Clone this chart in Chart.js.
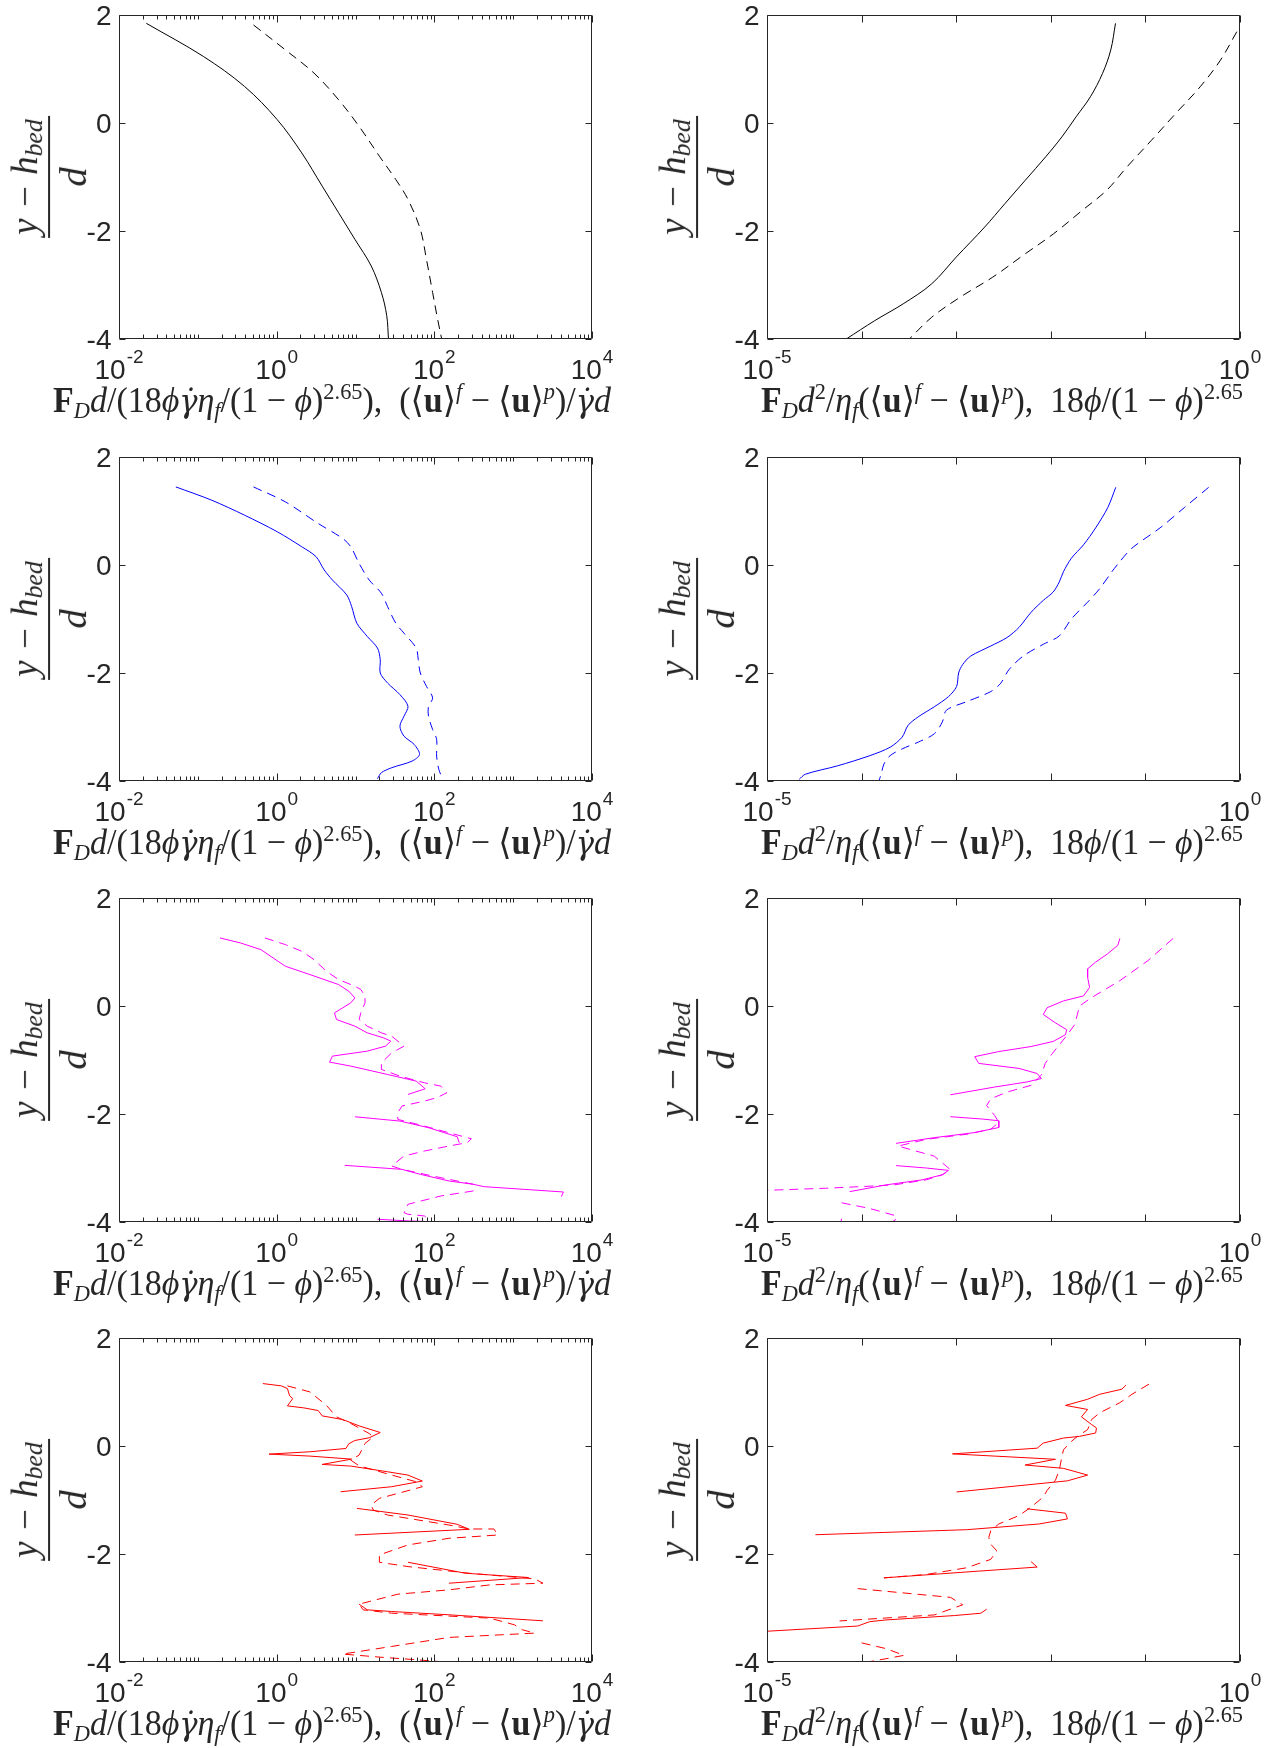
<!DOCTYPE html>
<html>
<head>
<meta charset="utf-8">
<script src="https://cdn.jsdelivr.net/npm/chart.js@4.4.1/dist/chart.umd.min.js"></script>
<style>
  body { margin: 0; background: #fff; }
  #page { position: relative; width: 1276px; height: 1748px; overflow: hidden; background: #fff; }
  canvas { position: absolute; }
  .xt { position: absolute; white-space: nowrap; font-family: "Liberation Serif", "DejaVu Serif", serif;
        font-size: 36px; line-height: 30px; color: #262626; }
  .xt sub, .xt sup { font-size: 0.66em; line-height: 0; }
  .xt sup { vertical-align: 0.55em; }
  .xt sub { vertical-align: -0.25em; }
  .gd { font-family: "DejaVu Serif", serif; font-size: 0.9em; }
  .yl { position: absolute; transform: translate(-50%, -50%) rotate(-90deg); white-space: nowrap;
        font-family: "Liberation Serif", "DejaVu Serif", serif; font-style: italic; font-size: 37px; color: #262626; }
  .frac { display: inline-flex; flex-direction: column; align-items: center; line-height: 1; }
  .num { border-bottom: 2px solid #262626; padding: 0 3px 5px; }
  .num sub { font-size: 0.7em; line-height: 0; vertical-align: -0.2em; }
  .den { padding-top: 4px; font-size: 1.05em; }
</style>
</head>
<body>
<div id="page"></div>
<script>
// ---- data: height (y - h_bed)/d and the two profiles per panel ----
// row 1, black
const blackLeftSolidY = [1.846, 1.231, 0.677, 0.062, -0.554, -1.169, -1.662, -2.154, -2.646, -3.138, -3.569, -4.0];
const blackLeftSolidX = [0.0222, 0.118, 0.391, 1.016, 2.08, 3.78, 6.10, 9.82, 15.8, 21.3, 24.9, 26.2];
const blackLeftDashY = [1.815, 1.354, 0.923, 0.431, -0.062, -0.615, -1.046, -1.415, -1.969, -2.523, -3.138, -3.631, -4.0];
const blackLeftDashX = [0.508, 1.29, 2.98, 6.10, 11.1, 20.1, 32.4, 46.3, 66.4, 79.4, 95.1, 110, 124];
const blackRightSolidY = [1.845, 1.351, 0.918, 0.485, 0.114, -0.257, -0.628, -1.061, -1.494, -1.927, -2.484, -2.978, -3.349, -3.659, -4.0];
const blackRightSolidX = [0.0483, 0.0430, 0.0352, 0.0262, 0.0185, 0.0131, 0.00881, 0.00537, 0.00327, 0.0020, 0.0010, 0.000551, 0.000275, 0.000138, 0.0000689];
const blackRightDashY = [1.691, 1.165, 0.670, 0.176, -0.319, -0.814, -1.247, -1.618, -2.051, -2.422, -2.855, -3.226, -3.597, -4.0];
const blackRightDashX = [0.925, 0.622, 0.379, 0.209, 0.116, 0.0638, 0.0389, 0.0215, 0.0107, 0.00537, 0.00243, 0.00110, 0.000551, 0.000320];

// row 2, blue
const blueLeftSolidY = [1.446, 1.2, 0.923, 0.615, 0.338, 0.154, -0.092, -0.277, -0.554, -0.769, -1.077, -1.323, -1.538, -1.754, -2.0, -2.185, -2.4, -2.615, -2.8, -2.985, -3.169, -3.323, -3.508, -3.631, -3.754, -3.846, -3.957];
const blueLeftSolidX = [0.0526, 0.150, 0.391, 1.02, 2.08, 3.16, 4.01, 5.09, 7.74, 8.93, 10.4, 14.1, 19.0, 20.6, 20.6, 25.5, 36.6, 46.3, 41.2, 36.6, 41.2, 55.5, 64.9, 52.2, 28.8, 21.3, 19.0];
const blueLeftDashY = [1.446, 1.169, 0.769, 0.492, 0.338, 0.031, -0.277, -0.523, -0.769, -1.077, -1.262, -1.538, -1.754, -2.0, -2.246, -2.462, -2.615, -2.8, -3.046, -3.231, -3.538, -3.785, -3.969];
const blueLeftDashX = [0.508, 1.29, 3.36, 6.87, 8.71, 11.1, 14.9, 21.3, 25.5, 32.4, 41.2, 58.9, 62.5, 66.4, 79.4, 95.1, 84.3, 84.3, 95.1, 107, 107, 114, 128];
const blueRightSolidY = [1.438, 1.063, 0.688, 0.375, 0.125, -0.125, -0.313, -0.5, -0.656, -0.875, -1.156, -1.344, -1.5, -1.688, -1.844, -2.0, -2.25, -2.438, -2.625, -2.813, -2.969, -3.188, -3.375, -3.531, -3.719, -3.875, -3.969];
const blueRightSolidX = [0.0486, 0.0400, 0.0298, 0.0222, 0.0165, 0.0136, 0.0123, 0.0106, 0.00832, 0.00619, 0.00461, 0.00344, 0.00232, 0.00142, 0.00117, 0.00106, 0.00101, 0.000828, 0.000587, 0.000396, 0.000310, 0.000268, 0.000200, 0.000122, 0.0000557, 0.0000254, 0.0000219];
const blueRightDashY = [1.438, 1.063, 0.688, 0.313, 0.063, -0.125, -0.438, -0.688, -1.0, -1.313, -1.469, -1.688, -1.938, -2.188, -2.344, -2.531, -2.688, -2.906, -3.125, -3.281, -3.406, -3.531, -3.688, -3.875, -4.0];
const blueRightDashX = [0.466, 0.258, 0.143, 0.0721, 0.0537, 0.0442, 0.0329, 0.0245, 0.0165, 0.0123, 0.00832, 0.00509, 0.00361, 0.00296, 0.00232, 0.00129, 0.000789, 0.000714, 0.000587, 0.000396, 0.000268, 0.000200, 0.000172, 0.000161, 0.000152];

// row 3, magenta (null = break in the line)
const magentaLeftSolidY = [1.260, 1.168, 1.044, 0.890, 0.736, 0.582, 0.397, 0.274, 0.150, 0.058, -0.035, -0.127, -0.250, -0.374, -0.497, -0.589, -0.651, -0.744, -0.836, -0.928, -1.039, -1.113, -1.268, -1.391, -1.533, -1.638, null, -2.051, -2.131, -2.254, -2.421, -2.531, null, -2.951, -3.025, -3.117, -3.240, -3.302, -3.345, -3.444, -3.530, null, -3.949, -3.980, -3.999];
const magentaLeftSolidX = [0.191, 0.347, 0.631, 0.902, 1.29, 2.64, 6.10, 8.22, 9.82, 8.71, 6.87, 5.41, 5.74, 9.82, 14.1, 22.6, 28.1, 24.0, 14.1, 5.09, 4.69, 8.71, 25.5, 58.9, 76.6, 46.3, null, 9.82, 36.6, 84.3, 195, 207, null, 7.29, 38.8, 66.4, 153, 313, 423, 4335, 4083, null, 19.0, 46.3, 121];
const magentaLeftDashY = [1.260, 1.137, 1.014, 0.859, 0.644, 0.490, 0.366, 0.305, 0.181, 0.058, -0.127, -0.250, -0.374, -0.497, -0.559, -0.744, -0.867, -1.052, -1.175, -1.298, -1.422, -1.483, -1.607, -1.699, -1.761, -1.853, -1.977, -2.100, -2.223, -2.347, -2.458, -2.531, -2.593, -2.686, -2.778, -2.963, -3.025, -3.148, -3.302, -3.425, -3.518, -3.672, -3.826, -3.857, -3.888, -3.980];
const magentaLeftDashX = [0.710, 1.29, 2.08, 2.98, 4.26, 6.10, 9.82, 11.7, 13.2, 13.2, 11.7, 11.1, 14.1, 21.3, 28.8, 41.2, 28.8, 21.3, 21.3, 36.6, 74.8, 121, 144, 107, 74.8, 38.8, 34.4, 34.4, 74.8, 153, 295, 262, 153, 74.8, 41.2, 28.8, 38.8, 95.1, 313, 313, 121, 46.3, 41.2, 46.3, 74.8, 89.5];
const magentaRightSolidY = [1.25, 1.125, 0.969, 0.813, 0.688, 0.531, 0.344, 0.188, 0.094, -0.031, -0.156, -0.313, -0.438, -0.531, -0.656, -0.75, -0.844, -0.938, -1.063, -1.156, -1.25, -1.344, -1.406, -1.5, -1.644, null, -2.05, -2.094, -2.125, -2.25, -2.344, -2.438, -2.544, null, -2.956, -3.0, -3.044, -3.125, -3.219, -3.313, -3.438];
const magentaRightSolidX = [0.0537, 0.0511, 0.0400, 0.0298, 0.0245, 0.0245, 0.0257, 0.0222, 0.0136, 0.00916, 0.00832, 0.0112, 0.0147, 0.0143, 0.0106, 0.00619, 0.00282, 0.00157, 0.00173, 0.00461, 0.00718, 0.00793, 0.00561, 0.00256, 0.000869, null, 0.000869, 0.00191, 0.00282, 0.00282, 0.00157, 0.000587, 0.000231, null, 0.000231, 0.000483, 0.000828, 0.000714, 0.000438, 0.000181, 0.0000748];
const magentaRightDashY = [1.25, 0.844, 0.469, 0.156, 0.0, -0.156, -0.344, -0.531, -0.719, -0.906, -1.063, -1.281, -1.469, -1.594, -1.719, -1.844, -2.031, -2.156, -2.281, -2.375, -2.469, -2.594, -2.656, -2.781, -3.031, -3.125, -3.219, -3.313, -3.344, -3.375, -3.419, null, -3.644, -3.75, -3.875, -3.938, -4.0, null, -3.938, -4.0];
const magentaRightDashX = [0.196, 0.107, 0.0537, 0.0270, 0.0201, 0.0191, 0.0179, 0.0150, 0.0123, 0.0101, 0.00873, 0.00793, 0.00619, 0.00344, 0.00232, 0.00210, 0.00256, 0.00282, 0.00232, 0.00129, 0.000483, 0.000243, 0.000326, 0.000587, 0.000869, 0.000714, 0.000483, 0.000220, 0.000100, 0.0000415, 0.000008, null, 0.0000615, 0.000122, 0.000220, 0.000238, 0.000209, null, 0.0000615, 0.0000603];

// row 4, red
const redLeftSolidY = [1.156, 1.113, 1.063, 0.928, 0.879, 0.743, 0.706, 0.657, 0.558, 0.490, 0.373, 0.250, 0.152, 0.102, 0.041, -0.046, -0.107, -0.150, -0.187, -0.243, -0.341, -0.372, -0.477, -0.539, -0.649, -0.754, -0.847, null, -1.155, -1.278, -1.450, -1.543, -1.648, null, -2.153, -2.356, -2.436, -2.541, null, -2.929, -3.034, -3.065, -3.126, -3.237];
const redLeftSolidX = [0.668, 1.15, 1.37, 1.46, 1.60, 1.37, 2.21, 3.36, 3.78, 6.87, 11.1, 20.6, 14.9, 9.82, 8.22, 7.55, 2.64, 0.80, 2.64, 8.93, 3.78, 8.71, 25.5, 46.3, 70.5, 28.8, 6.47, null, 10.4, 46.3, 195, 278, 9.82, null, 46.3, 247, 1570, 153, null, 11.1, 14.1, 28.8, 153, 2388];
const redLeftDashY = [1.113, 1.002, 0.755, 0.540, 0.417, 0.232, 0.170, 0.047, -0.169, -0.261, -0.366, -0.539, -0.662, -0.754, -0.847, -0.970, -1.093, -1.185, -1.278, -1.463, -1.537, -1.537, -1.648, -1.709, -1.832, -2.017, -2.153, -2.233, -2.356, -2.461, -2.541, -2.572, -2.664, -2.744, -2.929, -3.034, -3.096, -3.188, -3.311, -3.404, -3.465, -3.545, -3.712, -3.853, -3.915, -3.958, -4.0];
const redLeftDashX = [1.37, 2.64, 4.26, 5.74, 8.71, 14.9, 16.8, 13.2, 11.1, 8.71, 11.1, 28.8, 58.9, 70.5, 41.2, 20.1, 15.8, 16.8, 25.5, 153, 278, 569, 641, 153, 46.3, 20.1, 20.1, 46.3, 278, 1879, 2388, 506, 153, 34.4, 11.1, 12.5, 28.8, 506, 1035, 1312, 1879, 153, 28.8, 6.87, 22.6, 58.9, 136];
const redRightSolidY = [1.127, 1.052, 0.958, 0.865, 0.752, 0.677, 0.540, 0.397, 0.334, 0.241, 0.178, 0.147, 0.054, -0.040, -0.146, -0.246, -0.352, -0.414, -0.539, -0.645, -0.851, null, -1.163, -1.244, -1.350, -1.444, -1.550, -1.643, null, -2.142, -2.242, -2.317, -2.442, null, -3.022, -3.097, -3.140, -3.221, -3.253, -3.334, -3.440];
const redRightSolidX = [0.0622, 0.0564, 0.0329, 0.0245, 0.0143, 0.0245, 0.0211, 0.0270, 0.0304, 0.0298, 0.0201, 0.0136, 0.00832, 0.00718, 0.000914, 0.0112, 0.00535, 0.0136, 0.0245, 0.0150, 0.00101, null, 0.00561, 0.0143, 0.0150, 0.00753, 0.00129, 0.0000325, null, 0.00619, 0.00718, 0.00173, 0.000172, null, 0.00210, 0.00182, 0.000959, 0.000181, 0.000122, 0.0000910, 0.000008];
const redRightDashY = [1.145, 0.958, 0.802, 0.615, 0.490, 0.303, 0.178, 0.085, -0.071, -0.258, -0.445, -0.633, -0.820, -0.944, -1.132, -1.288, -1.444, -1.568, -1.693, -1.818, -1.943, -2.099, -2.255, -2.379, -2.442, null, -2.641, -2.803, -2.941, -3.128, -3.240, null, -3.646, -3.752, -3.877, -3.939, -4.0];
const redRightDashX = [0.109, 0.0721, 0.0537, 0.0329, 0.0270, 0.0245, 0.0191, 0.0165, 0.0136, 0.0129, 0.0123, 0.0112, 0.00916, 0.00832, 0.00619, 0.00461, 0.00282, 0.00232, 0.00221, 0.00232, 0.00269, 0.00232, 0.00129, 0.000483, 0.000172, null, 0.0000910, 0.000869, 0.00117, 0.000587, 0.0000585, null, 0.000100, 0.000181, 0.000281, 0.000181, 0.000116];

// ---- axes ----
const yTickValues = [-4, -2, 0, 2];
const leftXMajor = [1e-2, 1, 1e2, 1e4];
const rightXMajor = [1e-5, 1e-4, 1e-3, 1e-2, 1e-1, 1];
const rightXLabeled = [1e-5, 1];

const leftTitle = '<b>F</b><sub><i>D</i></sub><i>d</i>/(18<i>ϕ</i><i class="gd">γ̇</i><i>η</i><sub><i>f</i></sub>/(1 − <i>ϕ</i>)<sup>2.65</sup>), &nbsp;(⟨<b>u</b>⟩<sup><i>f</i></sup> − ⟨<b>u</b>⟩<sup><i>p</i></sup>)/<i class="gd">γ̇</i><i>d</i>';
const rightTitle = '<b>F</b><sub><i>D</i></sub><i>d</i><sup>2</sup>/<i>η</i><sub><i>f</i></sub>(⟨<b>u</b>⟩<sup><i>f</i></sup> − ⟨<b>u</b>⟩<sup><i>p</i></sup>), &nbsp;18<i>ϕ</i>/(1 − <i>ϕ</i>)<sup>2.65</sup>';

const ROW_TOPS = [15, 457, 898, 1338];
const PLOT_H = 324;
const PAD_TOP = 25, CANVAS_H = 420;
const COLS = [
  { left: 119, right: 592, canvasLeft: 0, canvasW: 640, xmin: 1e-2, xmax: 1e4, titleX: 332, titleW: 558, title: leftTitle },
  { left: 767, right: 1240, canvasLeft: 640, canvasW: 636, xmin: 1e-5, xmax: 1, titleX: 1002, titleW: 482, title: rightTitle }
];

const panels = [
  { row: 0, col: 0, color: '#000000', solid: [blackLeftSolidX, blackLeftSolidY], dash: [blackLeftDashX, blackLeftDashY], tension: 0.35 },
  { row: 0, col: 1, color: '#000000', solid: [blackRightSolidX, blackRightSolidY], dash: [blackRightDashX, blackRightDashY], tension: 0.35 },
  { row: 1, col: 0, color: '#0000ff', solid: [blueLeftSolidX, blueLeftSolidY], dash: [blueLeftDashX, blueLeftDashY], tension: 0.3 },
  { row: 1, col: 1, color: '#0000ff', solid: [blueRightSolidX, blueRightSolidY], dash: [blueRightDashX, blueRightDashY], tension: 0.3 },
  { row: 2, col: 0, color: '#ff00ff', solid: [magentaLeftSolidX, magentaLeftSolidY], dash: [magentaLeftDashX, magentaLeftDashY], tension: 0 },
  { row: 2, col: 1, color: '#ff00ff', solid: [magentaRightSolidX, magentaRightSolidY], dash: [magentaRightDashX, magentaRightDashY], tension: 0 },
  { row: 3, col: 0, color: '#ff0000', solid: [redLeftSolidX, redLeftSolidY], dash: [redLeftDashX, redLeftDashY], tension: 0 },
  { row: 3, col: 1, color: '#ff0000', solid: [redRightSolidX, redRightSolidY], dash: [redRightDashX, redRightDashY], tension: 0 }
];

const AXIS_COLOR = '#262626';
const TICK_FONT = '"Liberation Sans", Arial, sans-serif';

function toPoints(xs, ys) {
  return xs.map((x, i) => (x === null || ys[i] === null) ? { x: null, y: null } : { x: x, y: ys[i] });
}

function minorTicks(min, max) {
  const out = [];
  for (let d = Math.log10(min); d < Math.log10(max); d++) {
    for (let k = 2; k <= 10; k++) {
      const v = k * Math.pow(10, d);
      if (v < max * 0.999) out.push(v);
    }
  }
  return out;
}

function drawPow(ctx, v, cx, baseY) {
  const exp = String(Math.round(Math.log10(v)));
  ctx.font = '28px ' + TICK_FONT;
  const wb = ctx.measureText('10').width;
  ctx.font = '19px ' + TICK_FONT;
  const we = ctx.measureText(exp).width;
  const x0 = cx - (wb + we + 1) / 2;
  ctx.textAlign = 'left';
  ctx.textBaseline = 'alphabetic';
  ctx.font = '28px ' + TICK_FONT;
  ctx.fillText('10', x0, baseY);
  ctx.font = '19px ' + TICK_FONT;
  ctx.fillText(exp, x0 + wb + 1, baseY - 16);
}

function makeFrame(col) {
  return {
    id: 'frame',
    afterDatasetsDraw(chart) {
      const { ctx, chartArea: a } = chart;
      const xs = chart.scales.x, ys = chart.scales.y;
      const L = Math.round(a.left) + 0.5, R = Math.round(a.right) - 0.5;
      const T = Math.round(a.top) + 0.5, B = Math.round(a.bottom) - 0.5;
      ctx.save();
      ctx.strokeStyle = AXIS_COLOR;
      ctx.lineWidth = 1;
      ctx.setLineDash([]);
      ctx.beginPath();
      ctx.rect(L, T, R - L, B - T);
      // y ticks, inward on both sides
      yTickValues.forEach(v => {
        const py = Math.round(ys.getPixelForValue(v)) + 0.5;
        ctx.moveTo(L, py); ctx.lineTo(L + 6, py);
        ctx.moveTo(R, py); ctx.lineTo(R - 6, py);
      });
      const major = col === 0 ? leftXMajor : rightXMajor;
      major.forEach(v => {
        const px = Math.round(xs.getPixelForValue(v)) + 0.5;
        ctx.moveTo(px, B); ctx.lineTo(px, B - 7);
        ctx.moveTo(px, T); ctx.lineTo(px, T + 7);
      });
      if (col === 0) {
        minorTicks(COLS[0].xmin, COLS[0].xmax).forEach(v => {
          if (leftXMajor.some(m => Math.abs(m - v) / m < 1e-6)) return;
          const px = Math.round(xs.getPixelForValue(v)) + 0.5;
          ctx.moveTo(px, B); ctx.lineTo(px, B - 4);
          ctx.moveTo(px, T); ctx.lineTo(px, T + 4);
        });
      }
      ctx.stroke();
      // tick labels
      ctx.fillStyle = AXIS_COLOR;
      ctx.font = '28px ' + TICK_FONT;
      ctx.textAlign = 'right';
      ctx.textBaseline = 'alphabetic';
      yTickValues.forEach(v => {
        const py = ys.getPixelForValue(v);
        ctx.fillText(String(v), L - 8, py + 10);
      });
      const labeled = col === 0 ? leftXMajor : rightXLabeled;
      labeled.forEach(v => drawPow(ctx, v, xs.getPixelForValue(v), B + 40));
      ctx.restore();
    }
  };
}

const page = document.getElementById('page');

panels.forEach(p => {
  const c = COLS[p.col];
  const top = ROW_TOPS[p.row];
  const canvas = document.createElement('canvas');
  canvas.width = c.canvasW;
  canvas.height = CANVAS_H;
  canvas.style.left = c.canvasLeft + 'px';
  canvas.style.top = (top - PAD_TOP) + 'px';
  canvas.style.width = c.canvasW + 'px';
  canvas.style.height = CANVAS_H + 'px';
  page.appendChild(canvas);

  const common = { showLine: true, borderColor: p.color, borderWidth: 1, pointRadius: 0, tension: p.tension, spanGaps: false, fill: false };
  new Chart(canvas.getContext('2d'), {
    type: 'scatter',
    data: {
      datasets: [
        Object.assign({ data: toPoints(p.solid[0], p.solid[1]) }, common),
        Object.assign({ data: toPoints(p.dash[0], p.dash[1]), borderDash: [9, 6] }, common)
      ]
    },
    options: {
      responsive: false,
      animation: false,
      events: [],
      layout: { padding: { left: c.left - c.canvasLeft, right: c.canvasLeft + c.canvasW - c.right, top: PAD_TOP, bottom: CANVAS_H - PAD_TOP - PLOT_H } },
      plugins: { legend: { display: false }, tooltip: { enabled: false } },
      scales: {
        x: { type: 'logarithmic', min: c.xmin, max: c.xmax, display: false },
        y: { type: 'linear', min: -4, max: 2, display: false }
      }
    },
    plugins: [makeFrame(p.col)]
  });

  // x axis title
  const xt = document.createElement('div');
  xt.className = 'xt';
  xt.innerHTML = c.title;
  xt.style.left = c.titleX + 'px';
  xt.style.top = (top + PLOT_H + 46) + 'px';
  page.appendChild(xt);
  const w = xt.getBoundingClientRect().width;
  xt.style.transform = 'translateX(-50%) scaleX(' + (c.titleW / w).toFixed(3) + ')';

  // y axis label
  const yl = document.createElement('div');
  yl.className = 'yl';
  yl.innerHTML = '<span class="frac"><span class="num"><i>y</i> − <i>h</i><sub>bed</sub></span><span class="den">d</span></span>';
  yl.style.left = (c.left - 71) + 'px';
  yl.style.top = (top + PLOT_H / 2) + 'px';
  page.appendChild(yl);
});
</script>
</body>
</html>
